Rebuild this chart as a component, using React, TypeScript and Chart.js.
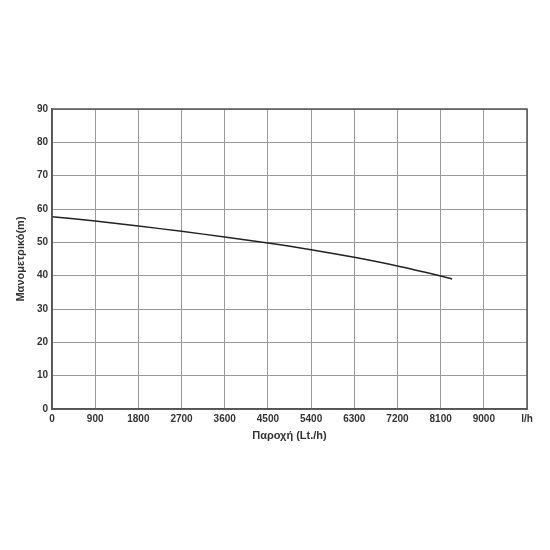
import React, { useEffect, useRef } from "react";
import { Chart, registerables } from "chart.js";

Chart.register(...registerables);

const flow = [0, 900, 1800, 2700, 3600, 4500, 5400, 6300, 7200, 8100, 8340];
const head = [57.7, 56.4, 54.9, 53.3, 51.6, 49.8, 47.8, 45.5, 42.9, 39.9, 39.0];
const xMax = 9900;
const xStep = 900;
const yMax = 90;
const yStep = 10;
const xUnitLabel = "l/h";
const xTitle = "Παροχή (Lt./h)";
const yTitle = "Μανομετρικό(m)";

const frame = {
  id: "frame",
  afterDraw(chart: any) {
    const { ctx, chartArea } = chart;
    ctx.save();
    ctx.strokeStyle = "#555";
    ctx.lineWidth = 1.5;
    ctx.strokeRect(chartArea.left, chartArea.top, chartArea.right - chartArea.left, chartArea.bottom - chartArea.top);
    ctx.restore();
  },
};

export default function App() {
  const ref = useRef<HTMLCanvasElement>(null);
  useEffect(() => {
    const font = { family: "'Liberation Sans', Arial, sans-serif", weight: "bold" as const };
    const chart = new Chart(ref.current!, {
      type: "scatter",
      data: {
        datasets: [
          {
            data: flow.map((x, i) => ({ x, y: head[i] })),
            showLine: true,
            borderColor: "#222",
            borderWidth: 1.5,
            pointRadius: 0,
            tension: 0.3,
          },
        ],
      },
      options: {
        animation: false,
        responsive: false,
        layout: { padding: { left: 0, right: 23, top: 109, bottom: 101 } },
        plugins: { legend: { display: false }, tooltip: { enabled: false } },
        scales: {
          x: {
            type: "linear",
            min: 0,
            max: xMax,
            afterFit: (s: any) => { s.height = 40; },
            ticks: {
              stepSize: xStep,
              autoSkip: false,
              maxRotation: 0,
              padding: 4,
              color: "#333",
              font: { ...font, size: 10 },
              callback: (v: any) => (v === xMax ? xUnitLabel : String(v)),
            },
            grid: { color: "#999", lineWidth: 1, drawTicks: false },
            border: { color: "#555", width: 1.5 },
            title: { display: true, text: xTitle, color: "#333", font: { ...font, size: 11 }, padding: { top: 4, bottom: 6 } },
          },
          y: {
            type: "linear",
            min: 0,
            max: yMax,
            afterFit: (s: any) => { s.width = 52; },
            ticks: {
              stepSize: yStep,
              padding: 4,
              color: "#333",
              font: { ...font, size: 10 },
            },
            grid: { color: "#999", lineWidth: 1, drawTicks: false },
            border: { color: "#555", width: 1.5 },
            title: { display: true, text: yTitle, color: "#333", font: { ...font, size: 11 }, padding: { top: 14, bottom: 4 } },
          },
        },
      },
      plugins: [frame],
    });
    return () => chart.destroy();
  }, []);
  return (
    <div style={{ position: "absolute", left: 0, top: 0, width: 550, height: 550, background: "#fff" }}>
      <canvas ref={ref} width={550} height={550} />
    </div>
  );
}
